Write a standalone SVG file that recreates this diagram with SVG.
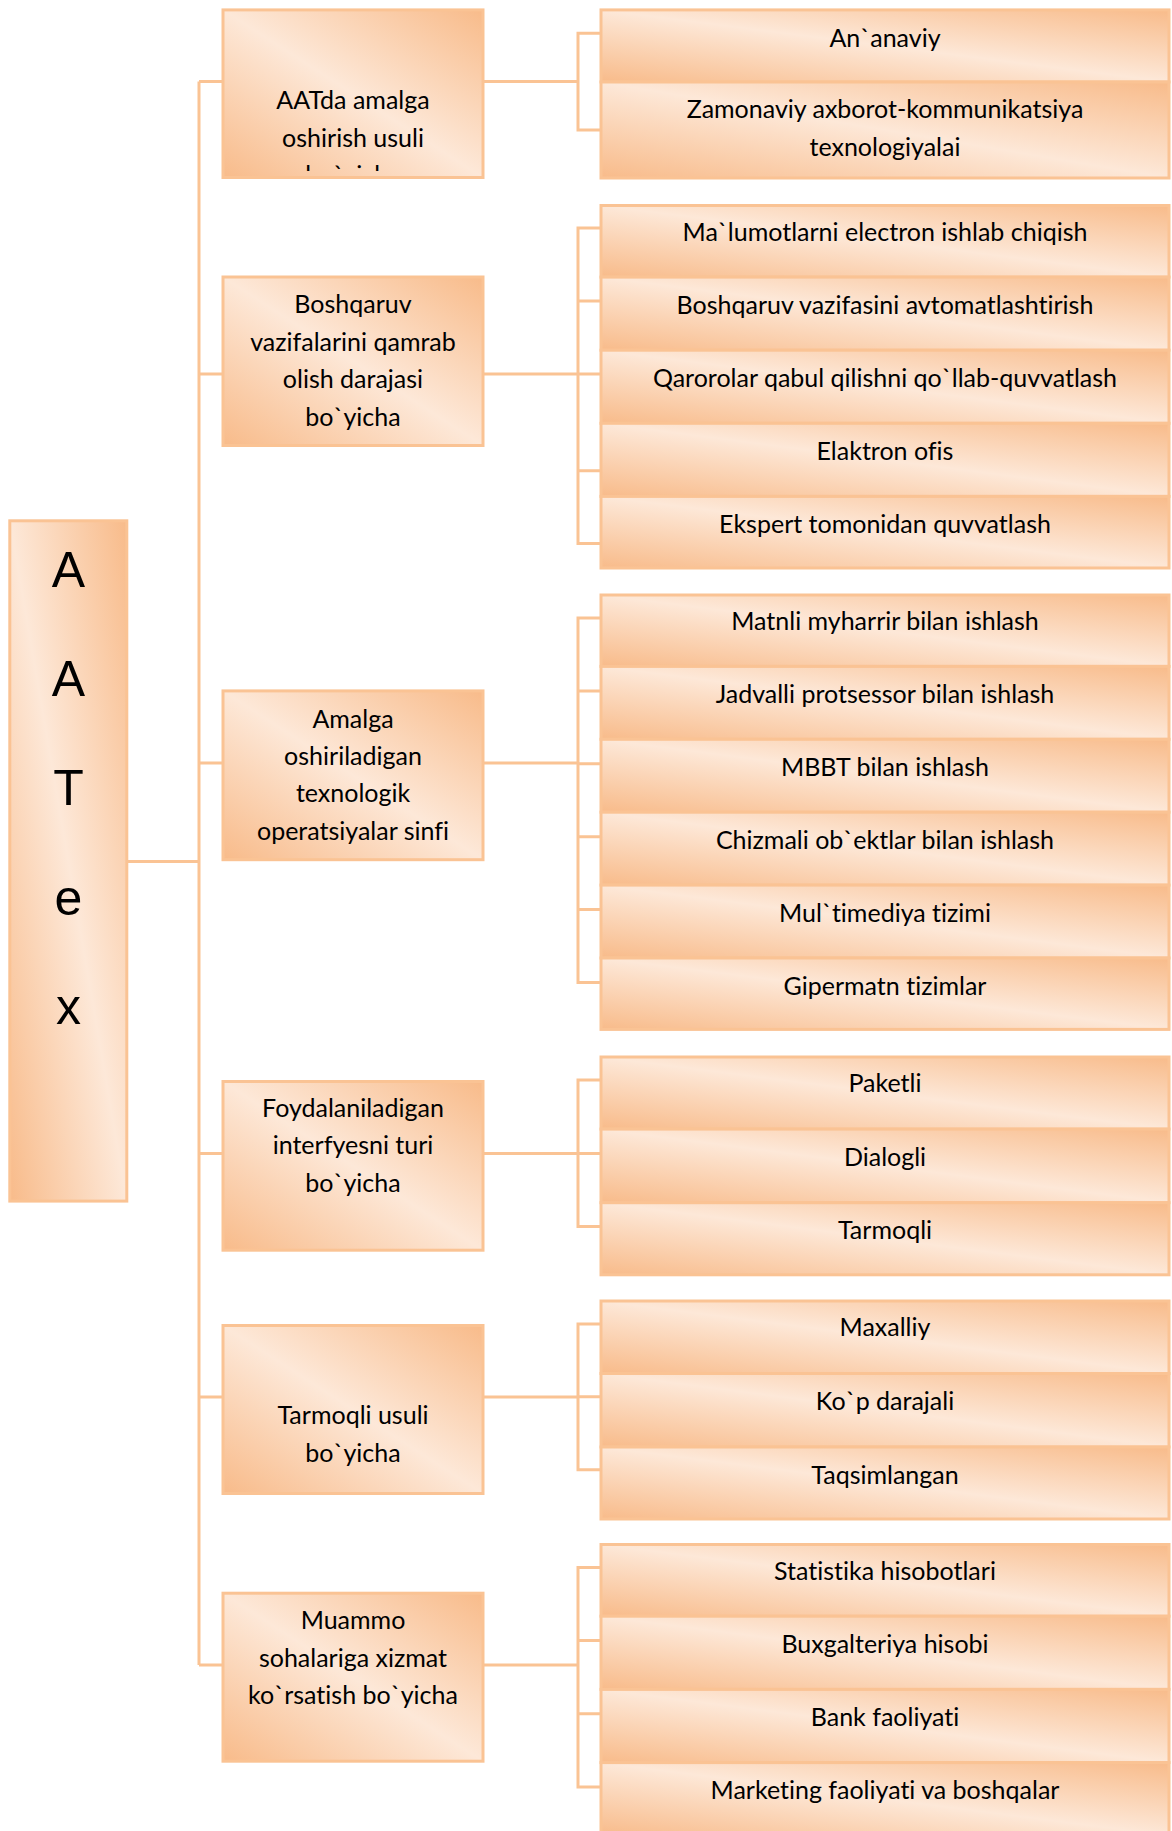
<svg xmlns="http://www.w3.org/2000/svg" width="1172" height="1831" viewBox="0 0 1172 1831">
<defs>
  <linearGradient id="g" x1="0" y1="1" x2="1" y2="0">
    <stop offset="0" stop-color="#F8BB8A"/>
    <stop offset="0.5" stop-color="#FDE8D8"/>
    <stop offset="1" stop-color="#F8BB8A"/>
  </linearGradient>
  <clipPath id="clip1"><rect x="223" y="9" width="260" height="162"/></clipPath>
</defs>
<style>
  .box { fill: url(#g); stroke: #FAC394; stroke-width: 3; }
  .ln { fill: none; stroke: #FAC394; stroke-width: 3; }
  .t { font-family: Lato, "Open Sans", "Liberation Sans", sans-serif; font-size: 25px; fill: #000; text-anchor: middle; font-variant-ligatures: none; }
  .big { font-family: "Liberation Sans", Arial, sans-serif; font-size: 50px; fill: #000; text-anchor: middle; }
</style>
<rect width="1172" height="1831" fill="#fff"/>

<g id="connectors">
  <path class="ln" d="M128 861.4 H199 M199 81.5 V1665"/>
  <path class="ln" d="M199 81.5 H223 M199 374 H223 M199 763 H223 M199 1153.5 H223 M199 1397 H223 M199 1665 H223"/>
  <path class="ln" d="M483 81.5 H578 M483 374 H578 M483 763 H578 M483 1153.5 H578 M483 1397 H578 M483 1665 H578"/>
  <path class="ln" d="M601 33.3 H578 V130 H601"/>
  <path class="ln" d="M601 228 H578 V543.4 H601 M578 301 H601 M578 374 H601 M578 470.7 H601"/>
  <path class="ln" d="M601 618 H578 V982.5 H601 M578 690.9 H601 M578 763.8 H601 M578 836.7 H601 M578 909.6 H601"/>
  <path class="ln" d="M601 1080 H578 V1226.5 H601 M578 1153.5 H601"/>
  <path class="ln" d="M601 1324 H578 V1469.7 H601 M578 1396.8 H601"/>
  <path class="ln" d="M601 1567.4 H578 V1787 H601 M578 1640.6 H601 M578 1713.8 H601"/>
</g>

<g id="root">
  <rect class="box" x="9.8" y="520.8" width="117" height="680.3"/>
  <text class="big" x="68.5" y="587">A</text>
  <text class="big" x="68.5" y="696.2">A</text>
  <text class="big" x="68.5" y="805.4">T</text>
  <text class="big" x="68.5" y="914.6">e</text>
  <text class="big" x="68.5" y="1023.8">x</text>
</g>

<g id="m1">
  <rect class="box" x="223" y="9.9" width="260" height="167.6"/>
  <g clip-path="url(#clip1)">
    <text class="t" x="353" y="109.3">AATda amalga</text>
    <text class="t" x="353" y="146.7">oshirish usuli</text>
    <text class="t" x="353" y="184.1">bo`yicha</text>
  </g>
</g>
<g id="m2">
  <rect class="box" x="223" y="277" width="260" height="168.5"/>
  <text class="t" x="353" y="313.3">Boshqaruv</text>
  <text class="t" x="353" y="350.7">vazifalarini qamrab</text>
  <text class="t" x="353" y="388.1">olish darajasi</text>
  <text class="t" x="353" y="425.5">bo`yicha</text>
</g>
<g id="m3">
  <rect class="box" x="223" y="690.9" width="260" height="168.8"/>
  <text class="t" x="353" y="727.5">Amalga</text>
  <text class="t" x="353" y="764.9">oshiriladigan</text>
  <text class="t" x="353" y="802.3">texnologik</text>
  <text class="t" x="353" y="839.7">operatsiyalar sinfi</text>
</g>
<g id="m4">
  <rect class="box" x="223" y="1081.5" width="260" height="168.7"/>
  <text class="t" x="353" y="1117">Foydalaniladigan</text>
  <text class="t" x="353" y="1154.4">interfyesni turi</text>
  <text class="t" x="353" y="1191.8">bo`yicha</text>
</g>
<g id="m5">
  <rect class="box" x="223" y="1325.5" width="260" height="168"/>
  <text class="t" x="353" y="1424.3">Tarmoqli usuli</text>
  <text class="t" x="353" y="1461.7">bo`yicha</text>
</g>
<g id="m6">
  <rect class="box" x="223" y="1593.2" width="260" height="168"/>
  <text class="t" x="353" y="1629.3">Muammo</text>
  <text class="t" x="353" y="1666.7">sohalariga xizmat</text>
  <text class="t" x="353" y="1704.1">ko`rsatish bo`yicha</text>
</g>

<g id="r1a"><rect class="box" x="601" y="9.9" width="568" height="72.1"/><text class="t" x="885" y="46.7">An`anaviy</text></g>
<g id="r1b"><rect class="box" x="601" y="82" width="568" height="96"/><text class="t" x="885" y="118.3">Zamonaviy axborot-kommunikatsiya</text><text class="t" x="885" y="156">texnologiyalai</text></g>

<g id="r2a"><rect class="box" x="601" y="205.5" width="568" height="71.6"/><text class="t" x="885" y="240.7">Ma`lumotlarni electron ishlab chiqish</text></g>
<g id="r2b"><rect class="box" x="601" y="277.1" width="568" height="73.1"/><text class="t" x="885" y="313.8">Boshqaruv vazifasini avtomatlashtirish</text></g>
<g id="r2c"><rect class="box" x="601" y="350.2" width="568" height="73.1"/><text class="t" x="885" y="386.9">Qarorolar qabul qilishni qo`llab-quvvatlash</text></g>
<g id="r2d"><rect class="box" x="601" y="423.3" width="568" height="73.1"/><text class="t" x="885" y="460">Elaktron ofis</text></g>
<g id="r2e"><rect class="box" x="601" y="496.4" width="568" height="71.6"/><text class="t" x="885" y="533.1">Ekspert tomonidan quvvatlash</text></g>

<g id="r3a"><rect class="box" x="601" y="595" width="568" height="71.4"/><text class="t" x="885" y="630.2">Matnli myharrir bilan ishlash</text></g>
<g id="r3b"><rect class="box" x="601" y="666.4" width="568" height="72.9"/><text class="t" x="885" y="703.1">Jadvalli protsessor bilan ishlash</text></g>
<g id="r3c"><rect class="box" x="601" y="739.3" width="568" height="72.9"/><text class="t" x="885" y="776">MBBT bilan ishlash</text></g>
<g id="r3d"><rect class="box" x="601" y="812.2" width="568" height="72.9"/><text class="t" x="885" y="848.9">Chizmali ob`ektlar bilan ishlash</text></g>
<g id="r3e"><rect class="box" x="601" y="885.1" width="568" height="72.9"/><text class="t" x="885" y="921.8">Mul`timediya tizimi</text></g>
<g id="r3f"><rect class="box" x="601" y="958" width="568" height="71.4"/><text class="t" x="885" y="994.7">Gipermatn tizimlar</text></g>

<g id="r4a"><rect class="box" x="601" y="1057" width="568" height="72.1"/><text class="t" x="885" y="1092.2">Paketli</text></g>
<g id="r4b"><rect class="box" x="601" y="1129.1" width="568" height="73.6"/><text class="t" x="885" y="1165.8">Dialogli</text></g>
<g id="r4c"><rect class="box" x="601" y="1202.7" width="568" height="72.1"/><text class="t" x="885" y="1239.4">Tarmoqli</text></g>

<g id="r5a"><rect class="box" x="601" y="1301" width="568" height="72.5"/><text class="t" x="885" y="1336.2">Maxalliy</text></g>
<g id="r5b"><rect class="box" x="601" y="1373.5" width="568" height="73.5"/><text class="t" x="885" y="1410.2">Ko`p darajali</text></g>
<g id="r5c"><rect class="box" x="601" y="1447" width="568" height="72"/><text class="t" x="885" y="1483.7">Taqsimlangan</text></g>

<g id="r6a"><rect class="box" x="601" y="1544.5" width="568" height="71.7"/><text class="t" x="885" y="1579.7">Statistika hisobotlari</text></g>
<g id="r6b"><rect class="box" x="601" y="1616.2" width="568" height="73.2"/><text class="t" x="885" y="1652.9">Buxgalteriya hisobi</text></g>
<g id="r6c"><rect class="box" x="601" y="1689.4" width="568" height="73.2"/><text class="t" x="885" y="1726.1">Bank faoliyati</text></g>
<g id="r6d"><rect class="box" x="601" y="1762.6" width="568" height="73"/><text class="t" x="885" y="1799.3">Marketing faoliyati va boshqalar</text></g>
</svg>
